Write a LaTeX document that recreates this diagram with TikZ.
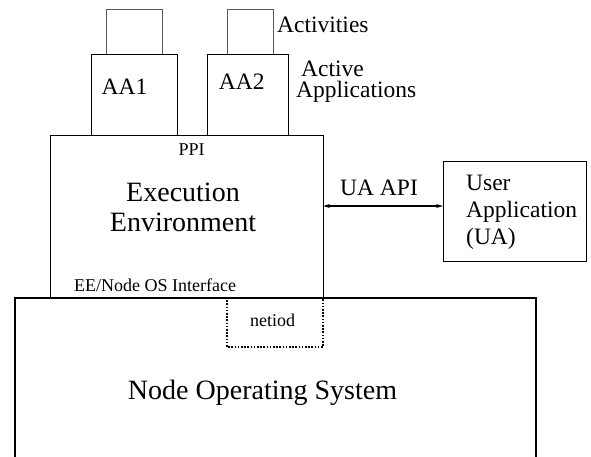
\documentclass[tikz,border=0pt]{standalone}
\usepackage{fontspec}
\setmainfont{Liberation Serif}
\usetikzlibrary{arrows.meta}
\begin{document}
\begin{tikzpicture}[x=1pt,y=-1pt,
  box/.style={draw, rectangle, inner sep=0pt, anchor=north west},
  actbox/.style={box, draw=black!65, line width=0.9pt},
  aabox/.style={box, line width=1pt},
  bigbox/.style={box, line width=1.4pt},
  txt/.style={inner sep=0pt},
  fbig/.style={font=\fontsize{28}{30}\selectfont},
  fmid/.style={font=\fontsize{23.5}{26.7}\selectfont},
  fsmall/.style={font=\fontsize{18}{20}\selectfont}]
\clip (0,0) rectangle (591,457);
% boxes
\node[actbox, minimum width=56pt, minimum height=45pt] (act1) at (105.5,9) {};
\node[actbox, minimum width=46pt, minimum height=45pt] (act2) at (226.5,9) {};
\node[aabox, minimum width=86pt, minimum height=81pt] (aa1) at (90.5,54) {};
\node[aabox, minimum width=81pt, minimum height=81pt] (aa2) at (206.5,54) {};
\node[bigbox, minimum width=273pt, minimum height=162pt] (ee) at (50,135) {};
\node[bigbox, line width=1.5pt, minimum width=521pt, minimum height=180pt] (nos) at (14,297) {};
\node[bigbox, minimum width=143pt, minimum height=100pt] (ua) at (443,161) {};
% netiod dotted box
\coordinate (nt1) at (227,297);
\coordinate (nt2) at (323,347);
\draw[line width=1.4pt, dash pattern=on 1.6pt off 1.6pt] (nt1) -- (nt1 |- nt2) -- (nt2) -- (nt2 |- nt1);
% arrow
\coordinate (arrL) at (323,206);
\draw[line width=1.2pt, {Stealth[length=7pt,width=4pt]}-{Stealth[length=7pt,width=4pt]}] (arrL) -- (ua.west |- arrL);
% texts
\node[txt, fmid, anchor=base] (t-aa1) at (124.5,95) {AA1};
\node[txt, fmid, anchor=base] (t-aa2) at (241.7,89.3) {AA2};
\node[txt, fmid, anchor=base west] (t-act) at (277,33) {Activities};
\node[txt, font=\fontsize{23.5}{21}\selectfont, align=left, anchor=west] (t-aapps) at (296,82) {\hspace*{5pt}Active\\Applications};
\node[txt, fsmall, anchor=base] (t-ppi) at (191.7,155.7) {PPI};
\node[txt, fbig, align=center] (t-ee) at (183,207) {Execution\\Environment};
\node[txt, fsmall, anchor=base west] (t-eeif) at (74,291.7) {EE/Node OS Interface};
\node[txt, fmid, anchor=base] (t-uaapi) at (379,196) {UA API};
\node[txt, fmid, align=left, anchor=west] (t-ua) at (466,212.5) {User\\Application\\(UA)};
\node[txt, fsmall, anchor=base] (t-netiod) at (272.5,326.7) {netiod};
\node[txt, fbig, anchor=base] (t-nos) at (262.5,399) {Node Operating System};
\end{tikzpicture}
\end{document}
